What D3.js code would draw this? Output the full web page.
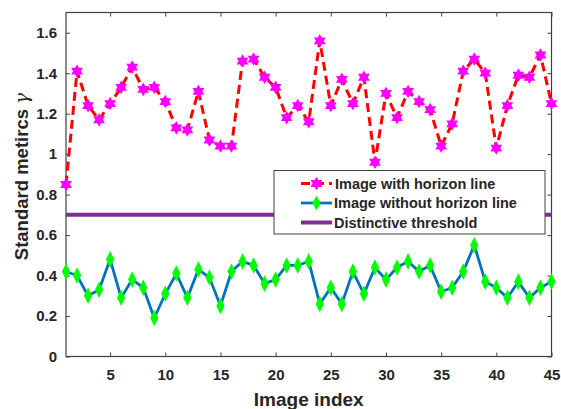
<!DOCTYPE html>
<html>
<head>
<meta charset="utf-8">
<script src="https://cdn.jsdelivr.net/npm/d3@7"></script>
<style>
  body { margin: 0; background: #fff; }
  text { font-family: "Liberation Sans", Arial, sans-serif; font-weight: bold; fill: #262626; }
</style>
</head>
<body>
<svg id="chart" width="561" height="409"></svg>
<script>
// image index 1..45
const imageIndex = d3.range(1, 46);

// standard metric for images with a horizon line
const withHorizon = [
  0.85, 1.41, 1.24, 1.17, 1.25, 1.33, 1.43, 1.32, 1.33, 1.26,
  1.13, 1.12, 1.31, 1.07, 1.04, 1.04, 1.46, 1.47, 1.38, 1.33,
  1.18, 1.24, 1.16, 1.56, 1.24, 1.37, 1.25, 1.38, 0.96, 1.30,
  1.18, 1.31, 1.26, 1.22, 1.04, 1.15, 1.41, 1.47, 1.40, 1.03,
  1.24, 1.39, 1.38, 1.49, 1.25
];

// standard metric for images without a horizon line
const withoutHorizon = [
  0.42, 0.40, 0.30, 0.33, 0.48, 0.29, 0.38, 0.34, 0.19, 0.31,
  0.41, 0.29, 0.43, 0.39, 0.25, 0.42, 0.47, 0.45, 0.36, 0.38,
  0.45, 0.45, 0.47, 0.26, 0.34, 0.26, 0.42, 0.31, 0.44, 0.38,
  0.44, 0.47, 0.42, 0.45, 0.32, 0.34, 0.42, 0.55, 0.37, 0.34,
  0.29, 0.37, 0.29, 0.34, 0.37
];

const threshold = 0.7;

const xTicks = [5, 10, 15, 20, 25, 30, 35, 40, 45];
const yTicks = [0, 0.2, 0.4, 0.6, 0.8, 1, 1.2, 1.4, 1.6];

const legendLabels = ['Image with horizon line', 'Image without horizon line', 'Distinctive threshold'];

const svg = d3.select('#chart');
const margin = {left: 66, top: 12.5, right: 9.5, bottom: 52.5};
const width = 561 - margin.left - margin.right;
const height = 409 - margin.top - margin.bottom;

const x = d3.scaleLinear().domain([1, 45]).range([0, width]);
const y = d3.scaleLinear().domain([0, 1.7]).range([height, 0]);

const g = svg.append('g').attr('transform', `translate(${margin.left},${margin.top})`);

const axisColor = '#404040';

// axes, ticks pointing inwards, mirrored on top and right
function styleAxis(sel) {
  sel.select('.domain').remove();
  sel.selectAll('line').attr('stroke', axisColor);
  sel.selectAll('text').style('font-size', '15px').attr('fill', '#262626');
}

g.append('g')
  .attr('transform', `translate(0,${height})`)
  .call(d3.axisBottom(x).tickValues(xTicks).tickSize(-4).tickPadding(13).tickFormat(d3.format('d')))
  .call(styleAxis);

g.append('g')
  .call(d3.axisTop(x).tickValues(xTicks).tickSize(-4).tickFormat(''))
  .call(styleAxis);

g.append('g')
  .call(d3.axisLeft(y).tickValues(yTicks).tickSize(-4).tickPadding(9).tickFormat(d => d3.format('')(+d.toFixed(1))))
  .call(styleAxis);

g.append('g')
  .attr('transform', `translate(${width},0)`)
  .call(d3.axisRight(y).tickValues(yTicks).tickSize(-4).tickFormat(''))
  .call(styleAxis);

g.append('rect')
  .attr('width', width).attr('height', height)
  .attr('fill', 'none').attr('stroke', axisColor).attr('stroke-width', 1.2);

// hexagram marker
const hexagram = {
  draw(context, size) {
    const r = Math.sqrt(size) * 0.62;
    const ri = r / Math.sqrt(3);
    for (let i = 0; i < 12; i++) {
      const a = -Math.PI / 2 + i * Math.PI / 6;
      const rr = i % 2 === 0 ? r : ri;
      if (i === 0) context.moveTo(rr * Math.cos(a), rr * Math.sin(a));
      else context.lineTo(rr * Math.cos(a), rr * Math.sin(a));
    }
    context.closePath();
  }
};

const line = d3.line().x((d, i) => x(imageIndex[i])).y(d => y(d));

// threshold line
g.append('line')
  .attr('x1', x(1)).attr('x2', x(45))
  .attr('y1', y(threshold)).attr('y2', y(threshold))
  .attr('stroke', '#7E2F8E').attr('stroke-width', 4);

// without horizon series
g.append('path')
  .datum(withoutHorizon)
  .attr('d', line)
  .attr('fill', 'none')
  .attr('stroke', '#0072BD')
  .attr('stroke-width', 2.8);

g.selectAll('.diamond')
  .data(withoutHorizon)
  .enter()
  .append('path')
  .attr('class', 'diamond')
  .attr('transform', (d, i) => `translate(${x(imageIndex[i])},${y(d)}) scale(1,1.15)`)
  .attr('d', d3.symbol().type(d3.symbolDiamond).size(60))
  .attr('fill', '#00FF00');

// with horizon series
g.append('path')
  .datum(withHorizon)
  .attr('d', line)
  .attr('fill', 'none')
  .attr('stroke', '#FF0000')
  .attr('stroke-width', 3)
  .attr('stroke-dasharray', '9,5');

g.selectAll('.star')
  .data(withHorizon)
  .enter()
  .append('path')
  .attr('class', 'star')
  .attr('transform', (d, i) => `translate(${x(imageIndex[i])},${y(d)})`)
  .attr('d', d3.symbol().type(hexagram).size(120))
  .attr('fill', '#FF00FF');

// axis titles
svg.append('text')
  .attr('x', margin.left + width / 2)
  .attr('y', 406)
  .attr('text-anchor', 'middle')
  .style('font-size', '19px')
  .text('Image index');

const yTitle = svg.append('text')
  .attr('transform', `translate(28,${margin.top + height / 2 - 8}) rotate(-90)`)
  .attr('text-anchor', 'middle')
  .style('font-size', '18.5px');
yTitle.append('tspan').text('Standard metircs ');
yTitle.append('tspan')
  .style('font-family', '"DejaVu Serif", "Liberation Serif", serif')
  .style('font-style', 'italic')
  .style('font-weight', 'normal')
  .text('γ');

// legend
const legend = svg.append('g').attr('transform', 'translate(274,170.5)');
legend.append('rect')
  .attr('width', 271).attr('height', 63.5)
  .attr('fill', '#fff').attr('stroke', axisColor).attr('stroke-width', 1);

const rows = [
  {stroke: '#FF0000', dash: '9,5', width: 3, marker: hexagram, fill: '#FF00FF', size: 120},
  {stroke: '#0072BD', dash: null, width: 2.8, marker: d3.symbolDiamond, fill: '#00FF00', size: 60},
  {stroke: '#7E2F8E', dash: null, width: 4, marker: null}
];

rows.forEach((r, i) => {
  const row = legend.append('g').attr('transform', `translate(0,${13 + i * 19.5})`);
  row.append('line')
    .attr('x1', 27).attr('x2', 58)
    .attr('stroke', r.stroke).attr('stroke-width', r.width)
    .attr('stroke-dasharray', r.dash);
  if (r.marker) {
    row.append('path')
      .attr('transform', 'translate(42.5,0)')
      .attr('d', d3.symbol().type(r.marker).size(r.size))
      .attr('fill', r.fill);
  }
  row.append('text')
    .attr('x', i === 0 ? 61 : 60)
    .attr('y', 5)
    .style('font-size', '14.5px')
    .text(legendLabels[i]);
});
</script>
</body>
</html>
